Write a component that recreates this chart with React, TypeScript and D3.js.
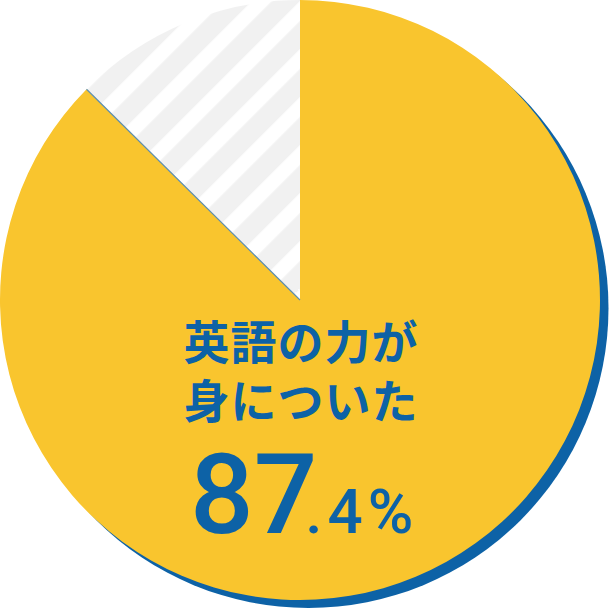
import React from 'react';
import * as d3 from 'd3';

const labels = ['身についた', 'その他'];
const shares = [87.4, 12.6];
const titleLines = ['英語の力が', '身についた'];
const bigPart = '87';
const smallPart = '.4%';

const width = 610;
const height = 608;

const App: React.FC = () => {
  const radius = 300;
  const cx = 300;
  const cy = 300;

  const pie = d3.pie<number>().sort(null).value(d => d);
  const slices = pie(shares);
  const arc = d3.arc<d3.PieArcDatum<number>>().innerRadius(0).outerRadius(radius);
  const full = d3.arc()({ innerRadius: 0, outerRadius: radius, startAngle: 0, endAngle: 2 * Math.PI }) || '';

  // stripes run "/" ; period measured along x+y
  const period = 48 / Math.SQRT2;
  const whiteW = 20 / Math.SQRT2;
  const phase = ((((397 - (cx + cy)) % 48) + 48) % 48) / Math.SQRT2;

  // edge between the two slices
  const edgeAngle = slices[1].startAngle;
  const ex = radius * Math.sin(edgeAngle);
  const ey = -radius * Math.cos(edgeAngle);

  return (
    <div style={{ position: 'absolute', left: 0, top: 0 }}>
      <svg width={width} height={height}>
        <defs>
          <pattern id="stripes" patternUnits="userSpaceOnUse" width={period} height={10} patternTransform="rotate(45)">
            <rect width={period} height={10} fill="#f1f1f1" />
            <rect x={phase} width={whiteW} height={10} fill="#ffffff" />
            <rect x={phase - period} width={whiteW} height={10} fill="#ffffff" />
          </pattern>
        </defs>
        <path d={full} transform={`translate(${cx + 8.5},${cy + 8})`} fill="#0d62a6" />
        <g transform={`translate(${cx},${cy})`}>
          {slices.map((s, i) => (
            <path key={labels[i]} d={arc(s) || ''} fill={i === 0 ? '#f9c52e' : 'url(#stripes)'} />
          ))}
          <line x1={0} y1={0} x2={ex} y2={ey} stroke="#5f8fae" strokeWidth={1.2} />
        </g>
        <text fill="#0d62a6" textAnchor="middle" fontSize={46} letterSpacing={1}
          style={{ fontFamily: '"Noto Sans CJK JP", sans-serif', fontWeight: 700 }}>
          {titleLines.map((t, i) => (
            <tspan key={t + i} x={301} y={359 + i * 59}>{t}</tspan>
          ))}
        </text>
        <text x={190} y={533} fill="#0d62a6" style={{ fontFamily: 'Roboto, sans-serif', fontWeight: 500 }}>
          <tspan fontSize={112}>{bigPart}</tspan>
          <tspan fontSize={62} dx={-12} letterSpacing={5}>{smallPart}</tspan>
        </text>
      </svg>
    </div>
  );
};

export default App;
